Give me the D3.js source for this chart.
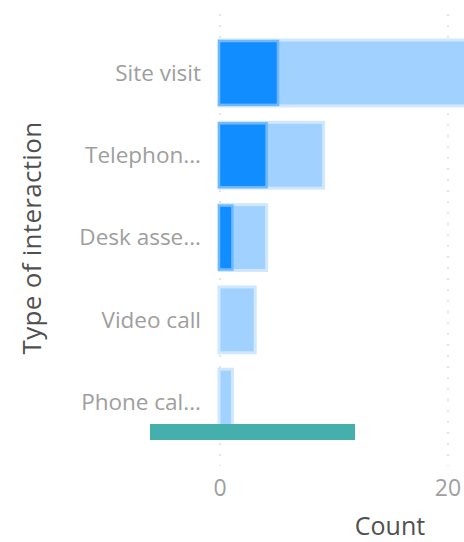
<!DOCTYPE html>
<html>
<head>
<meta charset="utf-8">
<script src="https://cdn.jsdelivr.net/npm/d3@7"></script>
<style>
  body { margin: 0; background: #fff; }
  svg { display: block; font-family: "Open Sans", "DejaVu Sans", sans-serif; }
</style>
</head>
<body>
<script>
const categories = ['Site visit', 'Telephon...', 'Desk asse...', 'Video call', 'Phone cal...'];
const totalCounts = [22, 9, 4, 3, 1];
const highlightCounts = [5, 4, 1, 0, 0];
const xTicks = [0, 20];

const width = 464, height = 542;

const svg = d3.select('body').append('svg')
    .attr('width', width)
    .attr('height', height);

const x = d3.scaleLinear()
    .domain([0, 20])
    .range([220, 448]);

const y = d3.scaleBand()
    .domain(categories)
    .range([31.8, 443.3])
    .paddingInner(0.2)
    .paddingOuter(0.1);

// dotted gridlines
svg.append('g')
  .selectAll('line')
  .data(xTicks)
  .enter().append('line')
    .attr('x1', d => x(d)).attr('x2', d => x(d))
    .attr('y1', 14).attr('y2', 466)
    .attr('stroke', '#e4e4e4')
    .attr('stroke-width', 2)
    .attr('stroke-dasharray', '2,9');

const rows = categories.map((c, i) => ({ c, total: totalCounts[i], hi: highlightCounts[i] }));

// total bars (light)
svg.append('g')
  .selectAll('rect')
  .data(rows)
  .enter().append('rect')
    .attr('x', x(0) - 1)
    .attr('y', d => y(d.c))
    .attr('width', d => x(d.total) - x(0) + 2)
    .attr('height', y.bandwidth())
    .attr('fill', '#a1d1ff')
    .attr('stroke', '#cfe7ff')
    .attr('stroke-width', 3);

// highlighted bars (dark)
svg.append('g')
  .selectAll('rect')
  .data(rows.filter(d => d.hi > 0))
  .enter().append('rect')
    .attr('x', x(0) - 1)
    .attr('y', d => y(d.c) + 1)
    .attr('width', d => x(d.hi) - x(0) + 2)
    .attr('height', y.bandwidth() - 2)
    .attr('fill', '#118dff')
    .attr('stroke', '#6db8ff')
    .attr('stroke-width', 2.5);

// category labels
svg.append('g')
  .selectAll('text')
  .data(categories)
  .enter().append('text')
    .attr('x', 201)
    .attr('y', d => y(d) + y.bandwidth() / 2)
    .attr('dy', '0.35em')
    .attr('text-anchor', 'end')
    .attr('font-size', 22.5)
    .attr('fill', '#9e9e9e')
    .text(d => d);

// x tick labels
svg.append('g')
  .selectAll('text')
  .data(xTicks)
  .enter().append('text')
    .attr('x', d => x(d))
    .attr('y', 496)
    .attr('text-anchor', 'middle')
    .attr('font-size', 23)
    .attr('fill', '#a0a0a0')
    .text(d => d);

// axis titles
svg.append('text')
  .attr('x', 390)
  .attr('y', 535)
  .attr('text-anchor', 'middle')
  .attr('font-size', 25)
  .attr('fill', '#505050')
  .text('Count');

svg.append('text')
  .attr('transform', 'translate(41,238) rotate(-90)')
  .attr('text-anchor', 'middle')
  .attr('font-size', 26)
  .attr('letter-spacing', 0.3)
  .attr('fill', '#505050')
  .text('Type of interaction');

// scrollbar
svg.append('rect')
  .attr('x', 150)
  .attr('y', 424)
  .attr('width', 205)
  .attr('height', 16)
  .attr('fill', '#45afad');
</script>
</body>
</html>
